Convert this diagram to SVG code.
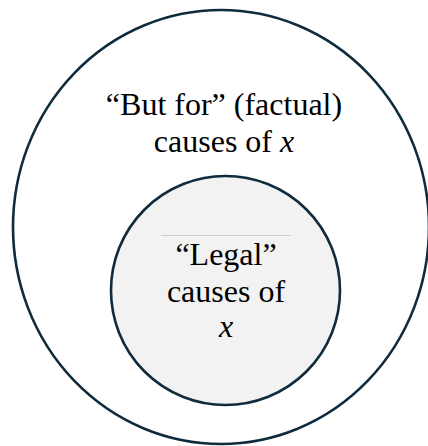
<svg xmlns="http://www.w3.org/2000/svg" width="428" height="446" viewBox="0 0 428 446">
<style>
.ring{stroke:#0f2b3c;stroke-width:2.6}
text{font-family:'Nimbus Roman','Times New Roman',Tinos,'DejaVu Serif',serif;font-size:32px;fill:#000;text-anchor:middle}
.i{font-style:italic}
</style>
<rect width="428" height="446" fill="#fff"/>
<g id="outer">
<ellipse class="ring" cx="221" cy="227" rx="208" ry="217" fill="#fff"/>
<text x="224" y="115">“But for” (factual)</text>
<text x="224" y="152">causes of <tspan class="i">x</tspan></text>
</g>
<g id="inner">
<circle class="ring" cx="225.5" cy="290.5" r="114.5" fill="#f2f2f2"/>
<line x1="161" y1="235.5" x2="291" y2="235.5" stroke="#cfcfcf" stroke-width="1"/>
<text x="226" y="265">“Legal”</text>
<text x="226" y="302">causes of</text>
<text class="i" x="226" y="337">x</text>
</g>
<g id="connectors"/>
</svg>
